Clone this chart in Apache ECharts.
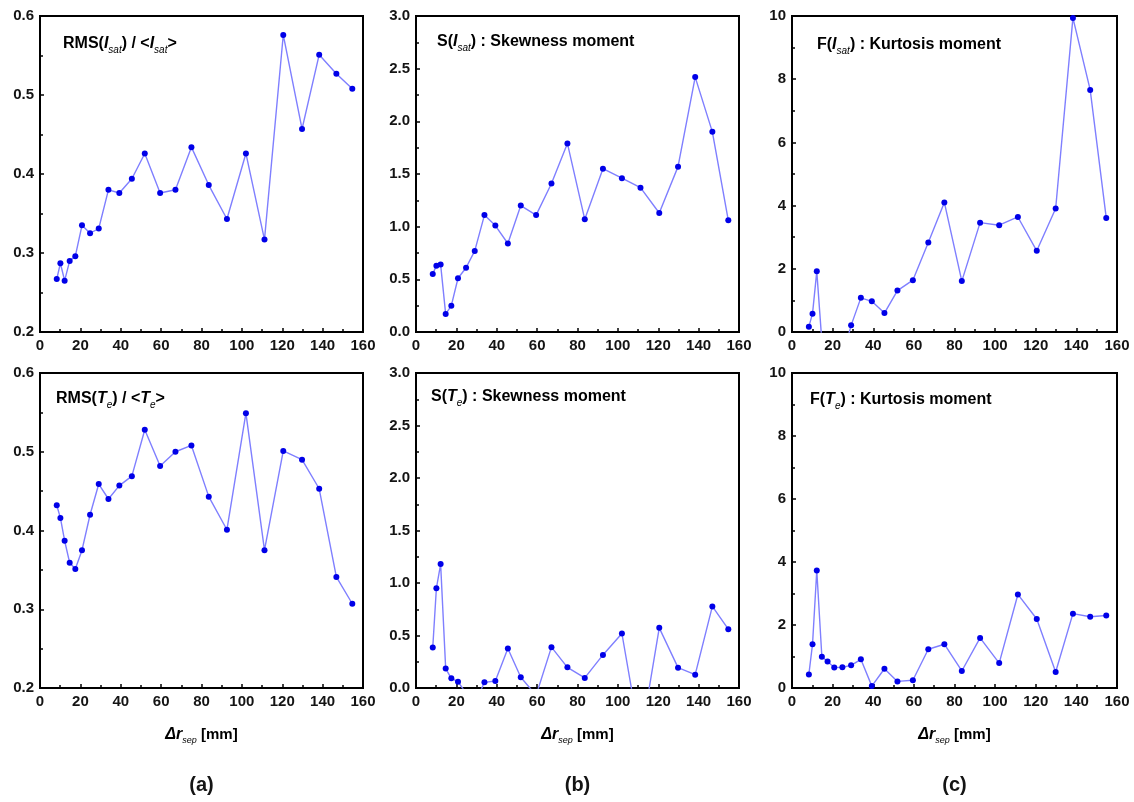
<!DOCTYPE html>
<html>
<head>
<meta charset="utf-8">
<title>Fluctuation moments vs probe separation</title>
<script src="https://cdn.jsdelivr.net/npm/echarts@6/dist/echarts.min.js"></script>
<style>
  html, body { margin: 0; padding: 0; background: #fff; }
  #chart { width: 1134px; height: 802px; }
</style>
</head>
<body>
<div id="chart"></div>
<script>
// probe separation, mm (same positions in every panel)
const sepMm = [8.3, 10.1, 12.2, 14.7, 17.5, 20.8, 24.8, 29.1, 33.9, 39.3, 45.5, 51.9,
  59.5, 67.1, 75.0, 83.6, 92.6, 102.0, 111.2, 120.5, 129.8, 138.3, 146.8, 154.7]

// top row: ion saturation current
const rmsIsat = [0.267, 0.287, 0.265, 0.290, 0.296, 0.335, 0.325, 0.331, 0.380, 0.376, 0.394, 0.426,
  0.376, 0.380, 0.434, 0.386, 0.343, 0.426, 0.317, 0.576, 0.457, 0.551, 0.527, 0.508]
const skewIsat = [0.55, 0.63, 0.64, 0.17, 0.25, 0.51, 0.61, 0.77, 1.11, 1.01, 0.84, 1.20,
  1.11, 1.41, 1.79, 1.07, 1.55, 1.46, 1.37, 1.13, 1.57, 2.42, 1.90, 1.06]
const kurtIsat = [0.17, 0.58, 1.92, -0.3, -0.5, -0.6, -0.8, 0.21, 1.08, 0.97, 0.60, 1.31,
  1.64, 2.83, 4.10, 1.61, 3.46, 3.38, 3.64, 2.57, 3.91, 9.94, 7.66, 3.61]

// bottom row: electron temperature
const rmsTe = [0.432, 0.416, 0.387, 0.359, 0.351, 0.375, 0.420, 0.459, 0.440, 0.457, 0.469, 0.528,
  0.482, 0.500, 0.508, 0.443, 0.401, 0.549, 0.375, 0.501, 0.490, 0.453, 0.341, 0.307]
const skewTe = [0.385, 0.95, 1.18, 0.185, 0.092, 0.06, -0.05, -0.15, 0.054, 0.067, 0.376, 0.102,
  -0.07, 0.389, 0.197, 0.096, 0.315, 0.519, -0.5, 0.573, 0.194, 0.127, 0.777, 0.56]
const kurtTe = [0.43, 1.39, 3.73, 0.99, 0.84, 0.65, 0.66, 0.72, 0.91, 0.06, 0.61, 0.21,
  0.245, 1.23, 1.39, 0.54, 1.59, 0.79, 2.97, 2.19, 0.51, 2.36, 2.26, 2.30]

// axis ticks
const xTicks = [0, 20, 40, 60, 80, 100, 120, 140, 160]
const rmsTicks = [0.2, 0.3, 0.4, 0.5, 0.6]
const skewTicks = [0, 0.5, 1.0, 1.5, 2.0, 2.5, 3.0]
const kurtTicks = [0, 2, 4, 6, 8, 10]

const titles = [
  '{n|RMS(}{i|I}{s|sat}{n|) / <}{i|I}{s|sat}{n|>}',
  '{n|S(}{i|I}{s|sat}{n|) : Skewness moment}',
  '{n|F(}{i|I}{s|sat}{n|) : Kurtosis moment}',
  '{n|RMS(}{i|T}{s|e}{n|) / <}{i|T}{s|e}{n|>}',
  '{n|S(}{i|T}{s|e}{n|) : Skewness moment}',
  '{n|F(}{i|T}{s|e}{n|) : Kurtosis moment}'
]
const panelLetters = ['(a)', '(b)', '(c)']

const FONT = '"Liberation Sans", Arial, sans-serif'
const INK = '#141414'

const cols = [
  { left: 40, width: 323 },
  { left: 416, width: 323 },
  { left: 792, width: 325 }
]
const rows = [
  { top: 16, height: 316 },
  { top: 373, height: 315 }
]
const panels = [
  { data: rmsIsat, ticks: rmsTicks, dec: 1 },
  { data: skewIsat, ticks: skewTicks, dec: 1 },
  { data: kurtIsat, ticks: kurtTicks, dec: 0 },
  { data: rmsTe, ticks: rmsTicks, dec: 1 },
  { data: skewTe, ticks: skewTicks, dec: 1 },
  { data: kurtTe, ticks: kurtTicks, dec: 0 }
]
const titlePos = [
  [63, 36], [437, 34], [817, 37],
  [56, 391], [431, 389], [810, 392]
]

const richTitle = {
  n: { fontFamily: FONT, fontWeight: 'bold', fontSize: 16, color: INK, lineHeight: 22 },
  i: { fontFamily: FONT, fontWeight: 'bold', fontStyle: 'italic', fontSize: 16, color: INK, lineHeight: 22 },
  s: { fontFamily: FONT, fontStyle: 'italic', fontSize: 10, color: INK, lineHeight: 10, verticalAlign: 'bottom' }
}

const grids = [], xAxes = [], yAxes = [], series = [], graphics = []

panels.forEach((p, k) => {
  const c = cols[k % 3], r = rows[Math.floor(k / 3)]
  grids.push({
    left: c.left, top: r.top, width: c.width, height: r.height,
    show: true, borderColor: '#000', borderWidth: 2, containLabel: false
  })
  xAxes.push({
    gridIndex: k, type: 'value',
    min: xTicks[0], max: xTicks[xTicks.length - 1], interval: xTicks[1] - xTicks[0],
    axisLine: { lineStyle: { color: '#000', width: 2 } },
    axisTick: { inside: true, length: 4, lineStyle: { color: '#000', width: 1.5 } },
    minorTick: { show: true, splitNumber: 2, length: 3, lineStyle: { color: '#000', width: 1.5 } },
    splitLine: { show: false },
    axisLabel: { margin: 6, fontFamily: FONT, fontWeight: 'bold', fontSize: 15, color: INK }
  })
  const t = p.ticks
  yAxes.push({
    gridIndex: k, type: 'value',
    min: t[0], max: t[t.length - 1], interval: t[1] - t[0],
    axisLine: { lineStyle: { color: '#000', width: 2 } },
    axisTick: { inside: true, length: 4, lineStyle: { color: '#000', width: 1.5 } },
    minorTick: { show: true, splitNumber: 2, length: 3, lineStyle: { color: '#000', width: 1.5 } },
    splitLine: { show: false },
    axisLabel: {
      margin: 6, fontFamily: FONT, fontWeight: 'bold', fontSize: 15, color: INK,
      formatter: v => v.toFixed(p.dec)
    }
  })
  series.push({
    type: 'line', xAxisIndex: k, yAxisIndex: k,
    data: sepMm.map((x, j) => [x, p.data[j]]),
    clip: true,
    symbol: 'circle', symbolSize: 6,
    itemStyle: { color: '#0000e8' },
    lineStyle: { color: '#7f7fff', width: 1.4 },
    animation: false
  })
  graphics.push({
    type: 'text', left: titlePos[k][0], top: titlePos[k][1],
    style: { text: titles[k], rich: richTitle }
  })
})

// bottom x-axis captions and panel letters
cols.forEach((c, j) => {
  const cx = c.left + c.width / 2
  graphics.push({
    type: 'text', x: cx, y: 735,
    style: {
      text: '{i|\u0394r}{s|sep}{n| [mm]}',
      align: 'center', verticalAlign: 'middle',
      rich: {
        n: { fontFamily: FONT, fontWeight: 'bold', fontSize: 15, color: INK, lineHeight: 20 },
        i: { fontFamily: FONT, fontWeight: 'bold', fontStyle: 'italic', fontSize: 16, color: INK, lineHeight: 20 },
        s: { fontFamily: FONT, fontStyle: 'italic', fontSize: 9, color: INK, lineHeight: 9, verticalAlign: 'bottom' }
      }
    }
  })
  graphics.push({
    type: 'text', x: cx, y: 785,
    style: {
      text: panelLetters[j], align: 'center', verticalAlign: 'middle',
      fontFamily: FONT, fontWeight: 'bold', fontSize: 20, fill: INK
    }
  })
})

const chart = echarts.init(document.getElementById('chart'), null, { renderer: 'canvas' })
chart.setOption({
  animation: false,
  backgroundColor: '#fff',
  grid: grids,
  xAxis: xAxes,
  yAxis: yAxes,
  series: series,
  graphic: graphics
})
</script>
</body>
</html>
